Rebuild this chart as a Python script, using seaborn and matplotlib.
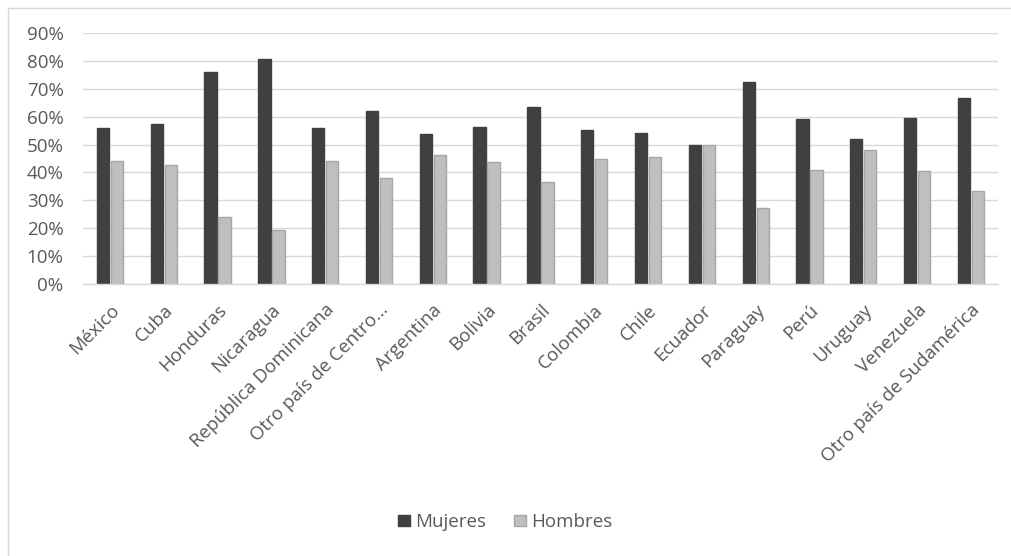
import matplotlib
matplotlib.use("Agg")
import matplotlib.pyplot as plt
import matplotlib.patches as mpatches
from matplotlib.ticker import PercentFormatter, MultipleLocator
import seaborn as sns
import pandas as pd

paises = [
    "México", "Cuba", "Honduras", "Nicaragua", "República Dominicana",
    "Otro país de Centro…", "Argentina", "Bolivia", "Brasil", "Colombia",
    "Chile", "Ecuador", "Paraguay", "Perú", "Uruguay", "Venezuela",
    "Otro país de Sudamérica",
]
mujeres = [0.56, 0.575, 0.76, 0.805, 0.56, 0.62, 0.536, 0.563, 0.633, 0.553,
           0.54, 0.50, 0.725, 0.59, 0.518, 0.595, 0.667]
hombres = [0.44, 0.425, 0.24, 0.195, 0.44, 0.38, 0.464, 0.437, 0.367, 0.447,
           0.455, 0.50, 0.273, 0.41, 0.482, 0.405, 0.333]
series = ["Mujeres", "Hombres"]

df = pd.DataFrame({
    "pais": paises * 2,
    "valor": mujeres + hombres,
    "sexo": [series[0]] * len(paises) + [series[1]] * len(paises),
})

sns.set_theme(style="white")
plt.rcParams["font.family"] = ["Open Sans", "DejaVu Sans"]
text_color = "#595959"
c_muj, c_hom = "#404040", "#BFBFBF"
e_muj, e_hom = "#404040", "#A6A6A6"
fs = 13.5

fig = plt.figure(figsize=(10.11, 5.56), dpi=100)
ax = fig.add_axes([0.0821, 0.4887, 0.9049, 0.4525])

sns.barplot(data=df, x="pais", y="valor", hue="sexo", order=paises,
            hue_order=series, palette=[c_muj, c_hom], width=0.52, gap=0.12,
            legend=False, ax=ax)

for cont, ec in zip(ax.containers, [e_muj, e_hom]):
    for p in cont:
        p.set_edgecolor(ec)
        p.set_linewidth(1.0)

ax.set_ylim(0, 0.9)
ax.set_xlim(-0.5, len(paises) - 0.5)
ax.yaxis.set_major_locator(MultipleLocator(0.1))
ax.yaxis.set_major_formatter(PercentFormatter(1.0, decimals=0))
ax.grid(axis="y", color="#D9D9D9", linewidth=1.0)
ax.set_axisbelow(True)
for s in ["top", "right", "left"]:
    ax.spines[s].set_visible(False)
ax.spines["bottom"].set_color("#D9D9D9")
ax.spines["bottom"].set_linewidth(1.0)
ax.set_xlabel("")
ax.set_ylabel("")
ax.tick_params(axis="both", length=0, colors=text_color, labelsize=fs)
ax.tick_params(axis="y", pad=14)
ax.set_xticks(range(len(paises)))
ax.set_xticklabels(paises, rotation=45, ha="right", va="top",
                   rotation_mode="anchor", color=text_color, fontsize=fs)
ax.tick_params(axis="x", pad=12)

handles = [mpatches.Patch(facecolor=c_muj, edgecolor=e_muj, label=series[0]),
           mpatches.Patch(facecolor=c_hom, edgecolor=e_hom, label=series[1])]
fig.legend(handles=handles, loc="center", bbox_to_anchor=(0.5, 0.061), ncol=2,
           frameon=False, fontsize=fs, handlelength=0.6, handleheight=0.6,
           handletextpad=0.3, columnspacing=1.5, labelcolor=text_color)

# chart area frame
fig.patches.append(mpatches.Rectangle((8 / 1011, -0.01), 1.1, 1 - 8 / 556 + 0.01,
                                      transform=fig.transFigure, fill=False,
                                      edgecolor="#D9D9D9", linewidth=1.0))

fig.savefig("out.png", dpi=100)
